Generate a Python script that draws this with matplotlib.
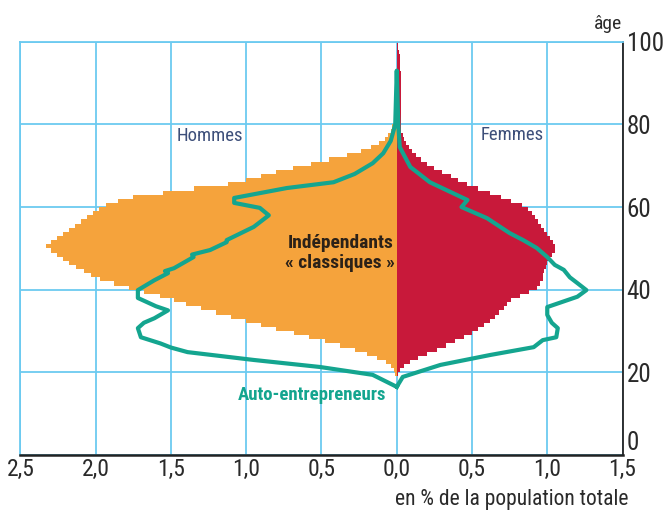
import numpy as np
import matplotlib.pyplot as plt
from matplotlib import font_manager

# Pick a narrow sans face if one is installed
family, stretch = 'Liberation Sans', 'normal'
for fe in font_manager.fontManager.ttflist:
    if fe.name in ('Liberation Sans Narrow', 'Roboto Condensed'):
        family, stretch = fe.name, 'normal'
        break
else:
    for fe in font_manager.fontManager.ttflist:
        if fe.name == 'DejaVu Sans' and str(fe.stretch) in ('condensed', '75', 'semi-condensed'):
            family, stretch = 'DejaVu Sans', fe.stretch
            break
plt.rcParams['font.family'] = [family, 'DejaVu Sans']
plt.rcParams['font.stretch'] = stretch

# Independants "classiques", % of total population, by single year of age
ages = list(range(19, 100))
hommes = [0.01, 0.02, 0.04, 0.07, 0.13, 0.20, 0.28, 0.38, 0.48, 0.58,
          0.68, 0.80, 0.90, 1.00, 1.10, 1.20, 1.30, 1.40, 1.48, 1.57,
          1.68, 1.78, 1.88, 1.97, 2.03, 2.08, 2.13, 2.18, 2.22, 2.26,
          2.30, 2.33, 2.30, 2.26, 2.22, 2.18, 2.14, 2.10, 2.06, 2.02,
          1.98, 1.93, 1.85, 1.75, 1.55, 1.35, 1.12, 1.00, 0.90, 0.80,
          0.69, 0.57, 0.45, 0.33, 0.24, 0.17, 0.12, 0.08, 0.06, 0.04,
          0.03, 0.02, 0.02, 0.02, 0.015, 0.01, 0.01, 0.01, 0.01, 0.01,
          0.0, 0.0, 0.0, 0.0, 0.0, 0.0, 0.0, 0.0, 0.0, 0.0, 0.0]
femmes = [0.01, 0.02, 0.05, 0.09, 0.14, 0.20, 0.27, 0.33, 0.39, 0.45,
          0.50, 0.54, 0.58, 0.62, 0.65, 0.68, 0.71, 0.73, 0.76, 0.82,
          0.88, 0.93, 0.95, 0.97, 0.97, 0.98, 0.99, 1.00, 1.01, 1.03,
          1.05, 1.05, 1.04, 1.02, 1.00, 0.98, 0.96, 0.94, 0.92, 0.90,
          0.87, 0.83, 0.76, 0.69, 0.62, 0.54, 0.47, 0.41, 0.36, 0.30,
          0.25, 0.20, 0.16, 0.13, 0.10, 0.08, 0.06, 0.05, 0.04, 0.03,
          0.03, 0.03, 0.03, 0.03, 0.03, 0.03, 0.03, 0.03, 0.03, 0.03,
          0.03, 0.025, 0.025, 0.025, 0.02, 0.02, 0.02, 0.02, 0.015, 0.01, 0.01]

# Auto-entrepreneurs outline
ae_h_age = [16.5, 19.4, 21.3, 23.0, 24.9, 26.0, 27.0, 28.5, 30.7, 32.0,
            33.1, 35.0, 36.0, 38.0, 39.9, 42.3, 44.0, 44.5, 45.2, 47.9,
            48.5, 49.6, 51.5, 52.0, 55.2, 58.0, 59.8, 61.0, 62.2, 64.6,
            66.0, 68.0, 70.6, 73.0, 76.0, 80.0, 93.0]
ae_h_val = [0.0, 0.16, 0.51, 0.95, 1.39, 1.50, 1.57, 1.70, 1.72, 1.68,
            1.61, 1.52, 1.60, 1.72, 1.72, 1.61, 1.52, 1.54, 1.48, 1.35,
            1.36, 1.24, 1.13, 1.13, 0.95, 0.85, 0.91, 1.08, 1.08, 0.73,
            0.42, 0.28, 0.16, 0.09, 0.04, 0.01, 0.0]
ae_f_age = [16.5, 18.9, 21.8, 24.2, 26.1, 27.8, 28.5, 30.7, 32.0, 33.9,
            35.8, 38.3, 39.9, 41.6, 43.0, 44.8, 46.0, 47.9, 50.1, 52.0,
            53.7, 57.3, 60.0, 61.7, 62.9, 66.0, 69.7, 74.5, 80.0, 93.0]
ae_f_val = [0.0, 0.04, 0.29, 0.62, 0.91, 0.97, 1.06, 1.07, 1.03, 1.00,
            1.00, 1.20, 1.26, 1.20, 1.15, 1.11, 1.05, 1.00, 0.93, 0.84,
            0.75, 0.60, 0.43, 0.47, 0.40, 0.22, 0.09, 0.02, 0.01, 0.0]

xticks = [-2.5, -2.0, -1.5, -1.0, -0.5, 0.0, 0.5, 1.0, 1.5]
xlabels = ['2,5', '2,0', '1,5', '1,0', '0,5', '0,0', '0,5', '1,0', '1,5']
yticks = [0, 20, 40, 60, 80, 100]

orange = '#f5a33c'
red = '#c8193a'
teal = '#14a58f'
grid = '#6ccaf0'
ink = '#2a2a2a'

fig = plt.figure(figsize=(6.65, 5.13), dpi=100)
ax = fig.add_axes([0.0308, 0.113, 0.9053, 0.8057])

# stepped pyramid
a = np.array(ages + [ages[-1] + 1])
h = np.array(hommes + [0.0])
f = np.array(femmes + [0.0])
ax.fill_betweenx(a, -h, 0, step='post', color=orange, lw=0, zorder=2)
ax.fill_betweenx(a, 0, f, step='post', color=red, lw=0, zorder=2)

# auto-entrepreneurs: men side up, women side down
line_y = ae_h_age + ae_f_age[::-1]
line_x = [-v for v in ae_h_val] + ae_f_val[::-1]
ax.plot(line_x, line_y, color=teal, lw=3, solid_joinstyle='round', zorder=3)

ax.set_xlim(-2.5, 1.5)
ax.set_ylim(0, 100)
ax.set_xticks(xticks)
ax.set_xticklabels(xlabels, fontsize=17, color=ink)
ax.set_yticks(yticks)
ax.yaxis.tick_right()
ax.tick_params(axis='y', labelsize=18, labelcolor=ink, length=0, pad=3)
ax.tick_params(axis='x', length=0, pad=2)
ax.get_yticklabels()[0].set_va('bottom')
ax.grid(True, color=grid, lw=1.3, zorder=0)
ax.set_axisbelow(True)

for s in ['left', 'top']:
    ax.spines[s].set_color(grid)
    ax.spines[s].set_linewidth(1.3)
ax.spines['bottom'].set_color('#222222')
ax.spines['bottom'].set_linewidth(1.8)
ax.spines['right'].set_color('#222222')
ax.spines['right'].set_linewidth(1.3)

ax.text(-1.24, 77.2, 'Hommes', ha='center', va='center', fontsize=13.5, color='#3d4f7a', zorder=4)
ax.text(0.77, 77.4, 'Femmes', ha='center', va='center', fontsize=13.5, color='#3d4f7a', zorder=4)
ax.text(-0.375, 48.9, 'Indépendants\n« classiques »', ha='center', va='center',
        fontsize=14, fontweight='bold', color='#2b2118', linespacing=1.1, zorder=4)
ax.text(-0.56, 14.5, 'Auto-entrepreneurs', ha='center', va='center',
        fontsize=13.5, fontweight='bold', color=teal, zorder=4)

fig.text(608 / 665, 1 - 24 / 513, 'âge', ha='center', va='center', fontsize=14, color=ink)
fig.text(512 / 665, 1 - 499 / 513, 'en % de la population totale', ha='center', va='center',
         fontsize=15.5, color=ink)

fig.savefig('out.png', dpi=100)
